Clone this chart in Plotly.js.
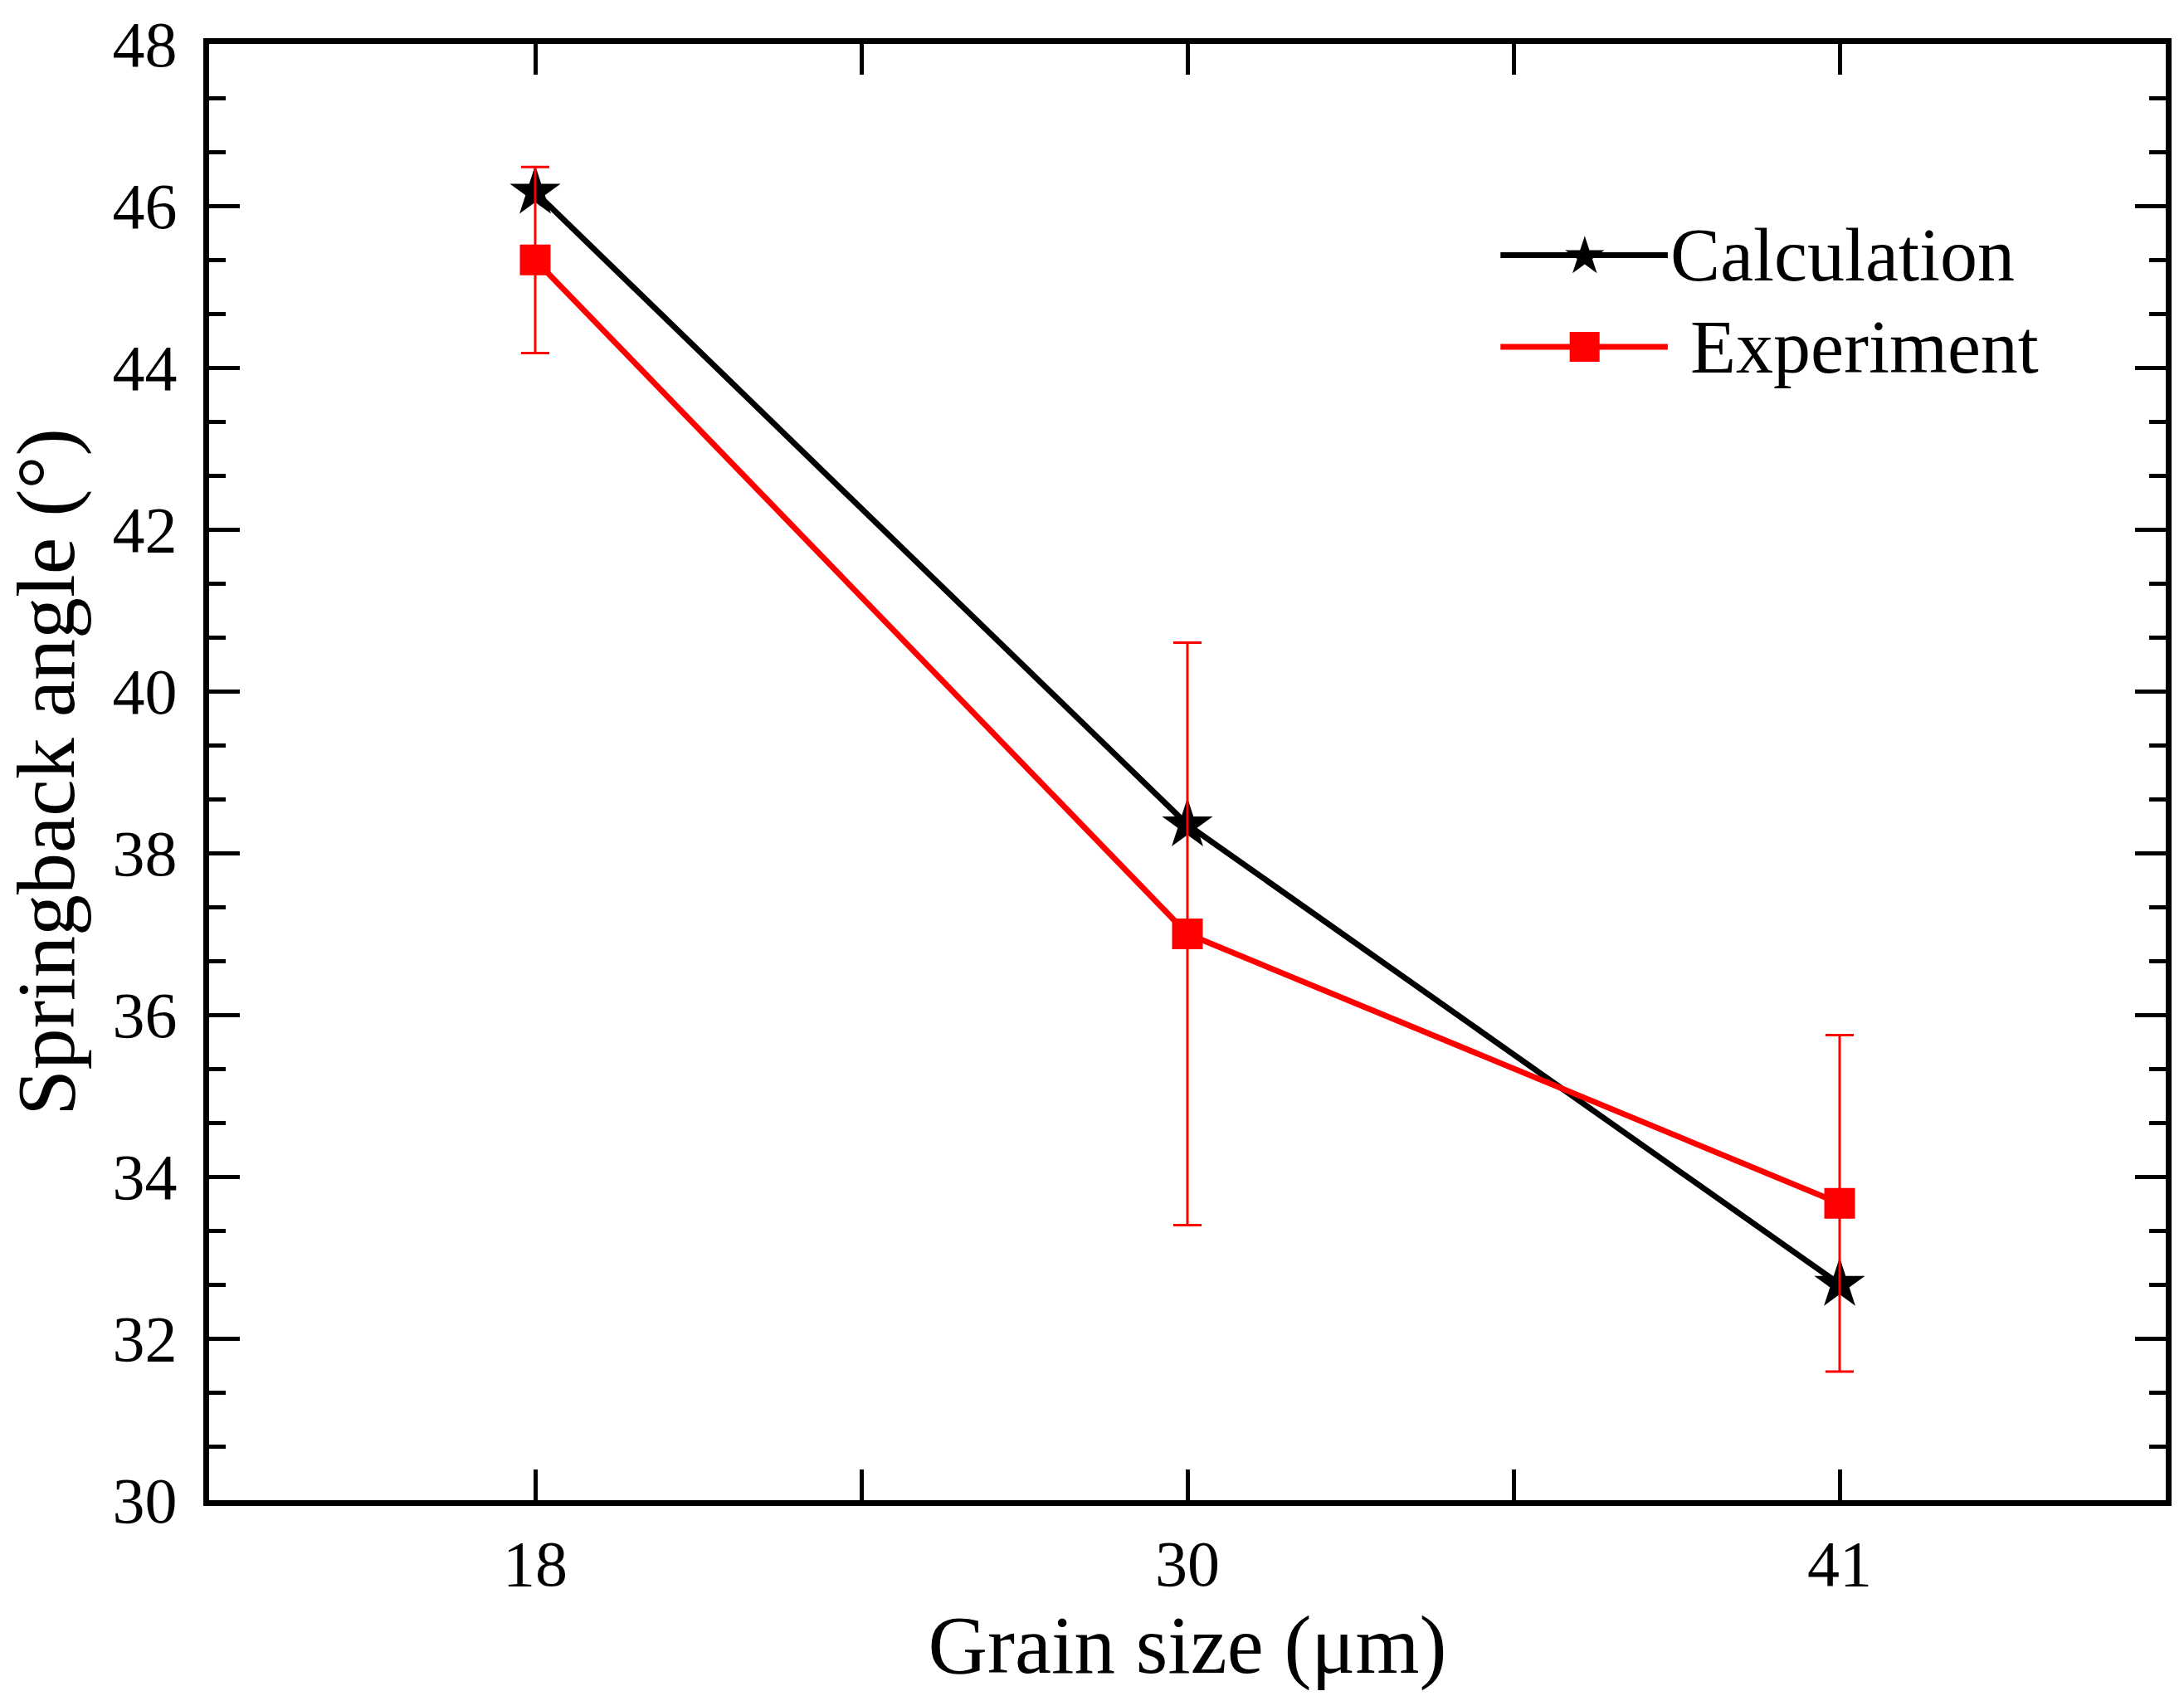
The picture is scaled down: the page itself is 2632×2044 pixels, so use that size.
<!DOCTYPE html>
<html>
<head>
<meta charset="utf-8">
<script src="https://cdn.plot.ly/plotly-3.0.1.min.js"></script>
<style>
  html, body { margin: 0; padding: 0; background: #fff; }
  #chart { width: 2632px; height: 2044px; }
</style>
</head>
<body>
<div id="chart"></div>
<script>
// grain sizes (um), shown as evenly spaced categories
var grainSizes = ['18', '30', '41'];
var seriesNames = ['Calculation', 'Experiment'];
var calculation = [46.17, 38.35, 32.67];
var experiment = [45.33, 37.0, 33.67];
var experimentErr = [1.15, 3.6, 2.08];
var yTicks = [30, 32, 34, 36, 38, 40, 42, 44, 46, 48];

var serif = '"Liberation Serif", "Times New Roman", serif';
var xIdx = grainSizes.map(function (g, i) { return i; });

var trace1 = {
  x: xIdx,
  y: calculation,
  name: seriesNames[0],
  type: 'scatter',
  mode: 'lines+markers',
  line: { color: '#000000', width: 7 },
  marker: { symbol: 'star', size: 46, color: '#000000' },
  showlegend: false
};

var trace2 = {
  x: xIdx,
  y: experiment,
  name: seriesNames[1],
  type: 'scatter',
  mode: 'lines+markers',
  line: { color: '#ff0000', width: 7 },
  marker: { symbol: 'square', size: 37, color: '#ff0000' },
  error_y: {
    type: 'data',
    array: experimentErr,
    symmetric: true,
    color: '#ff0000',
    thickness: 3,
    width: 17
  },
  showlegend: false
};

// legend drawn by hand so the sample line can be long like the original
var legRows = [0.855, 0.792];
var legX0 = 0.660, legX1 = 0.7455, legMid = 0.703;
var shapes = [
  { type: 'line', xref: 'paper', yref: 'paper', x0: legX0, x1: legX1, y0: legRows[0], y1: legRows[0],
    line: { color: '#000000', width: 7 } },
  { type: 'line', xref: 'paper', yref: 'paper', x0: legX0, x1: legX1, y0: legRows[1], y1: legRows[1],
    line: { color: '#ff0000', width: 7 } },
  { type: 'rect', xref: 'paper', yref: 'paper', xsizemode: 'pixel', ysizemode: 'pixel',
    xanchor: legMid, yanchor: legRows[1], x0: -18, x1: 18, y0: -18, y1: 18,
    fillcolor: '#ff0000', line: { width: 0 } }
];

var annotations = [
  { xref: 'paper', yref: 'paper', x: legMid, y: legRows[0], text: '\u2605', showarrow: false,
    xanchor: 'center', yanchor: 'middle', font: { family: 'DejaVu Sans', size: 62, color: '#000000' } },
  { xref: 'paper', yref: 'paper', x: 0.746, y: legRows[0], text: seriesNames[0], showarrow: false,
    xanchor: 'left', yanchor: 'middle', font: { family: serif, size: 90, color: '#000000' } },
  { xref: 'paper', yref: 'paper', x: 0.756, y: legRows[1], text: seriesNames[1], showarrow: false,
    xanchor: 'left', yanchor: 'middle', font: { family: serif, size: 90, color: '#000000' } }
];

var layout = {
  width: 2632,
  height: 2044,
  margin: { l: 252, r: 22, t: 53, b: 236 },
  paper_bgcolor: '#ffffff',
  plot_bgcolor: '#ffffff',
  showlegend: false,
  font: { family: serif, color: '#000000' },
  xaxis: {
    range: [-0.5, 2.5],
    tickmode: 'array',
    tickvals: xIdx,
    ticktext: grainSizes,
    ticks: 'inside',
    ticklen: 37,
    tickwidth: 5,
    tickcolor: '#000000',
    minor: { dtick: 0.5, tick0: 0.5, ticks: 'inside', ticklen: 37, tickwidth: 5, tickcolor: '#000000', showgrid: false },
    showline: true,
    linewidth: 7,
    linecolor: '#000000',
    mirror: 'ticks',
    showgrid: false,
    zeroline: false,
    tickfont: { family: serif, size: 78, color: '#000000' },
    ticklabelstandoff: 2,
    automargin: false,
    title: { text: 'Grain size (\u03bcm)', font: { family: serif, size: 99, color: '#000000' }, standoff: 22 }
  },
  yaxis: {
    range: [30, 48],
    tickmode: 'array',
    tickvals: yTicks,
    ticktext: yTicks.map(String),
    ticks: 'inside',
    ticklen: 37,
    tickwidth: 5,
    tickcolor: '#000000',
    minor: { dtick: 2 / 3, tick0: 30, ticks: 'inside', ticklen: 20, tickwidth: 5, tickcolor: '#000000', showgrid: false },
    showline: true,
    linewidth: 7,
    linecolor: '#000000',
    mirror: 'ticks',
    showgrid: false,
    zeroline: false,
    tickfont: { family: serif, size: 78, color: '#000000' },
    ticklabelstandoff: 16,
    automargin: false,
    title: { text: 'Springback angle (\u00b0)', font: { family: serif, size: 100, color: '#000000' }, standoff: 20 }
  },
  shapes: shapes,
  annotations: annotations
};

var config = { responsive: false, displayModeBar: false, staticPlot: true };
Plotly.newPlot('chart', [trace1, trace2], layout, config);
</script>
</body>
</html>
